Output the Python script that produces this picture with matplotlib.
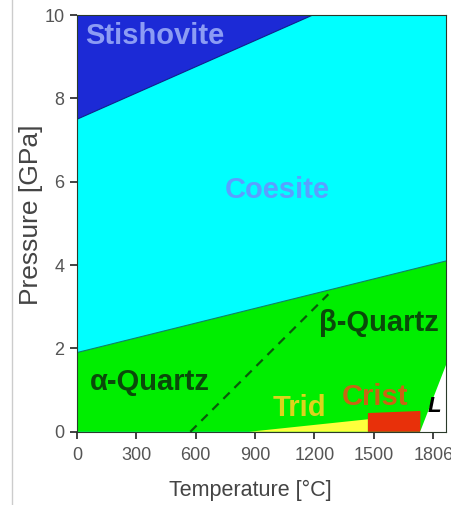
import matplotlib
matplotlib.use('Agg')
import matplotlib.pyplot as plt

plt.rcParams['font.family'] = ['Liberation Sans', 'DejaVu Sans']

# phase boundaries (T in degC, P in GPa)
T_MAX = 1865
P_MAX = 10

stish_T = [0, 1190]          # stishovite / coesite
stish_P = [7.5, 10.0]
coes_T = [0, T_MAX]          # coesite / quartz
coes_P = [1.9, 4.1]
ab_T = [573, 1270]           # alpha / beta quartz (dashed)
ab_P = [0.0, 3.3]
trid_T = [870, 1470]         # tridymite wedge
trid_P = [0.0, 0.3]
crist_T = [1470, 1735]       # cristobalite
crist_P = [0.45, 0.5]
melt_T = [1735, T_MAX]       # liquid
melt_P = [0.0, 1.6]

xticks = [0, 300, 600, 900, 1200, 1500, 1800]
xticklabels = ['0', '300', '600', '900', '1200', '1500', '1806']
yticks = [0, 2, 4, 6, 8, 10]

C_STISH = '#1c2ad6'
C_COES = '#00ffff'
C_QTZ = '#00ee00'
C_TRID = '#ffff3c'
C_CRIST = '#e8300a'

fig = plt.figure(figsize=(4.52, 5.05), dpi=100)
ax = fig.add_axes([0.170, 0.145, 0.817, 0.825])

ax.fill([0, T_MAX, T_MAX, 0], [0, 0, P_MAX, P_MAX], color=C_COES, lw=0)
ax.fill([stish_T[0], stish_T[1], 0], [stish_P[0], stish_P[1], P_MAX],
        color=C_STISH, lw=0)
ax.plot(stish_T, stish_P, color='#10208a', lw=0.8)
ax.fill([coes_T[0], coes_T[1], T_MAX, 0], [coes_P[0], coes_P[1], 0, 0],
        color=C_QTZ, lw=0)
ax.plot(coes_T, coes_P, color='#10806a', lw=0.8)
ax.fill([trid_T[0], trid_T[1], trid_T[1]], [0, trid_P[1], 0],
        color=C_TRID, lw=0)
ax.fill([crist_T[0], crist_T[1], crist_T[1], crist_T[0]],
        [0, 0, crist_P[1], crist_P[0]], color=C_CRIST, lw=0)
ax.fill([melt_T[0], T_MAX, T_MAX], [0, 0, melt_P[1]], color='white', lw=0)
ax.plot(ab_T, ab_P, color='#0a5a0a', lw=1.6, ls=(0, (4, 3)))

lbl = dict(fontweight='bold', va='center', fontsize=21)
ax.text(40, 9.5, 'Stishovite', color='#8c9cf4', ha='left', **lbl)
ax.text(1011, 5.8, 'Coesite', color='#5aa0ff', ha='center', **lbl)
ax.text(1526, 2.6, '\u03b2-Quartz', color='#0a4a0a', ha='center', **lbl)
ax.text(369, 1.2, '\u03b1-Quartz', color='#0a4a0a', ha='center', **lbl)
ax.text(1122, 0.58, 'Trid', color='#dcd41c', ha='center', **lbl)
ax.text(1506, 0.84, 'Crist', color='#c86414', ha='center', **lbl)
ax.text(1805, 0.6, 'L', color='black', ha='center', fontsize=16,
        fontweight='bold', fontstyle='italic', va='center')

ax.set_xlim(0, T_MAX)
ax.set_ylim(0, P_MAX)
ax.set_xticks(xticks)
ax.set_xticklabels(xticklabels)
ax.set_yticks(yticks)
ax.tick_params(colors='#222222', labelcolor='#555555', labelsize=13,
               length=5, width=1.2, direction='out')
ax.tick_params(axis='x', pad=6)
ax.tick_params(axis='y', pad=4)
for s in ax.spines.values():
    s.set_color('#2a3a2a')
    s.set_linewidth(0.8)
ax.set_xlabel('Temperature [\u00b0C]', fontsize=15.5, color='#444444')
ax.set_ylabel('Pressure [GPa]', fontsize=19, color='#444444')
ax.xaxis.set_label_coords(0.47, -0.115)
ax.yaxis.set_label_coords(-0.092, 0.52)

fig.patches.append(plt.Rectangle((0.027, -0.01), 0.98, 1.2,
                                 transform=fig.transFigure, fill=False,
                                 edgecolor='#cccccc', lw=1))

fig.savefig('out.png', dpi=100)
